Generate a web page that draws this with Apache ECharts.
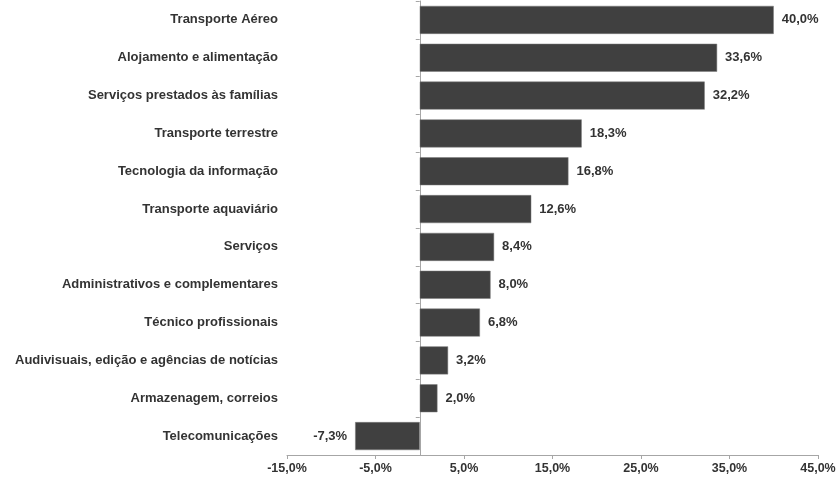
<!DOCTYPE html>
<html lang="pt">
<head>
  <meta charset="UTF-8">
  <script src="https://cdn.jsdelivr.net/npm/echarts@6/dist/echarts.min.js"></script>
</head>
<body style="margin:0;background:#fff;">
  <div id="main" style="width:840px;height:479px;"></div>
  <script type="text/javascript">
    // categorias (de cima para baixo)
    var categorias = [
      'Transporte Aéreo',
      'Alojamento e alimentação',
      'Serviços prestados às famílias',
      'Transporte terrestre',
      'Tecnologia da informação',
      'Transporte aquaviário',
      'Serviços',
      'Administrativos e complementares',
      'Técnico profissionais',
      'Audivisuais, edição e agências de notícias',
      'Armazenagem, correios',
      'Telecomunicações'
    ];
    var variacao = [40.0, 33.6, 32.2, 18.3, 16.8, 12.6, 8.4, 8.0, 6.8, 3.2, 2.0, -7.3];

    var eixoMin = -15, eixoMax = 45, eixoPasso = 10;

    function pct(v) {
      return v.toFixed(1).replace('.', ',') + '%';
    }

    var fonte = 'Liberation Sans, Arial, sans-serif';
    var cinza = '#404040';

    var dados = variacao.map(function (v) {
      return {
        value: v,
        label: { position: v < 0 ? 'left' : 'right' }
      };
    });

    var chart = echarts.init(document.getElementById('main'));
    chart.setOption({
      animation: false,
      grid: { left: 287, right: 22, top: 1, bottom: 24, containLabel: false },
      xAxis: {
        type: 'value',
        min: eixoMin,
        max: eixoMax,
        interval: eixoPasso,
        splitLine: { show: false },
        axisLine: { show: true, onZero: false, lineStyle: { color: '#a6a6a6', width: 1 } },
        axisTick: { show: true, length: 4, lineStyle: { color: '#a6a6a6' } },
        axisLabel: {
          color: '#333',
          fontFamily: fonte,
          fontWeight: 'bold',
          fontSize: 12.5,
          margin: 7,
          formatter: function (v) { return pct(v); }
        }
      },
      yAxis: [
        {
          type: 'category',
          data: categorias,
          inverse: true,
          position: 'left',
          axisLine: { show: false, onZero: false },
          axisTick: { show: false },
          axisLabel: {
            color: '#333',
            fontFamily: fonte,
            fontWeight: 'bold',
            fontSize: 13,
            margin: 9
          }
        },
        {
          // linha do zero com as marcas entre categorias
          type: 'category',
          data: categorias,
          inverse: true,
          position: 'right',
          axisLine: { show: true, onZero: true, lineStyle: { color: '#a6a6a6', width: 1 } },
          axisTick: { show: true, inside: true, length: 4, lineStyle: { color: '#a6a6a6' } },
          axisLabel: { show: false }
        }
      ],
      series: [{
        type: 'bar',
        yAxisIndex: 0,
        data: dados,
        barCategoryGap: '26%',
        itemStyle: { color: cinza, borderColor: '#7a7a7a', borderWidth: 0.5 },
        label: {
          show: true,
          color: '#333',
          fontFamily: fonte,
          fontWeight: 'bold',
          fontSize: 13,
          distance: 8,
          formatter: function (p) { return pct(p.value); }
        }
      }]
    });
  </script>
</body>
</html>
